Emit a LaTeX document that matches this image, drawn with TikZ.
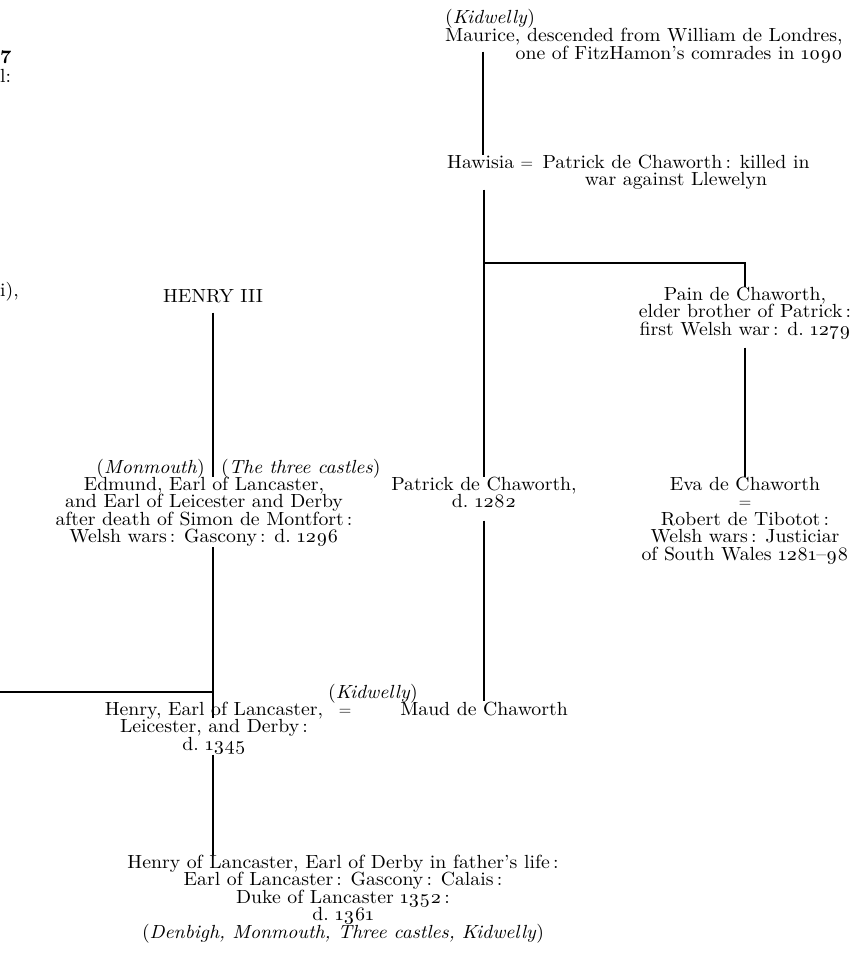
\documentclass[tikz,border=0pt]{standalone}
\usepackage{fontspec}
\setmainfont{lmroman10-regular.otf}[
  ItalicFont=lmroman10-italic.otf,
  BoldFont=lmroman10-bold.otf,
  FakeStretch=1.04,
  Numbers=OldStyle]
\setlength{\lineskiplimit}{-20pt}
\begin{document}
\begin{tikzpicture}[x=1pt, y=-1pt,
    every node/.style={inner sep=0pt, font=\fontsize{19}{17.5}\selectfont},
    entry/.style={align=center, anchor=north},
    tie/.style={line width=1.1pt}]
  \useasboundingbox (0,0) rectangle (859,954);
  % x of the descent lines
  \coordinate (xA) at (483,0);
  \coordinate (xH) at (484,0);
  \coordinate (xP) at (745,0);
  \coordinate (xE) at (213,0);
  % cut-off text of the left column
  \node (fragA) [anchor=base west] at (0,63) {\addfontfeature{Numbers=Lining}\textbf{7}};
  \node (fragB) [anchor=base west] at (0,82) {l:};
  \node (fragC) [anchor=base west] at (0,296) {i),};
  % Kidwelly line
  \node (kidA) [anchor=base west] at (445,23) {(\textit{Kidwelly})};
  \node (maurice) [align=right, anchor=north west] at (445,28.2)
    {Maurice, descended from William de Londres,\\one of FitzHamon's comrades in 1090};
  \node (hawisia) [anchor=base west] at (447,168) {Hawisia};
  \node (eqA) [anchor=base west] at ([xshift=6pt]hawisia.base east) {$=$};
  \node (patrickA) [anchor=base west] at ([xshift=9pt]eqA.base east) {Patrick de Chaworth\,: killed in};
  \node (llewelyn) [anchor=base] at ([yshift=-17.5pt]patrickA.base) {war against Llewelyn};
  \node (pain) [entry] at (745,286.8)
    {Pain de Chaworth,\\elder brother of Patrick\,:\\first Welsh war\,: d.~1279};
  \node (eva) [entry] at (745,476.8)
    {Eva de Chaworth\\$=$\\Robert de Tibotot\,:\\Welsh wars\,: Justiciar\\of South Wales 1281--98};
  \node (patrickB) [entry] at (484,476.8) {Patrick de Chaworth,\\d.~1282};
  % royal line
  \node (henryIII) [anchor=base] at (213,302) {HENRY III};
  \node (mon) [anchor=base east] at (205,473) {(\textit{Monmouth})};
  \node (three) [anchor=base west] at (221,473) {(\textit{The three castles})};
  \node (edmund) [entry] at (204,476.8)
    {Edmund, Earl of Lancaster,\\and Earl of Leicester and Derby\\after death of Simon de Montfort\,:\\Welsh wars\,: Gascony\,: d.~1296};
  \node (henry) [entry] at (214,701.8)
    {Henry, Earl of Lancaster,\\Leicester, and Derby\,:\\d.~1345};
  \node (eqB) [anchor=base] at (345,715) {$=$};
  \node (kidB) [anchor=base] at (373,698) {(\textit{Kidwelly})};
  \node (maud) [anchor=base] at (484,715) {Maud de Chaworth};
  \node (henryL) [entry] at (343,854.6)
    {Henry of Lancaster, Earl of Derby in father's life\,:\\Earl of Lancaster\,: Gascony\,: Calais\,:\\Duke of Lancaster 1352\,:\\d.~1361\\(\textit{Denbigh, Monmouth, Three castles, Kidwelly})};
  % descents
  \draw[tie, shorten <=-12pt] (maurice.south -| xA) -- (hawisia.north -| xA);
  \draw[tie] (llewelyn.south -| xH) -- (patrickB.north -| xH);
  \coordinate (fork) at (484,263);
  \draw[tie] (fork) -- (fork -| xP) -- (pain.north -| xP);
  \draw[tie, shorten <=8pt] (pain.south -| xP) -- (eva.north -| xP);
  \draw[tie, shorten <=10pt] (henryIII.south -| xE) -- (edmund.north -| xE);
  \draw[tie, shorten <=12pt] (patrickB.south -| xH) -- (maud.north -| xH);
  \draw[tie] (edmund.south -| xE) -- ([yshift=-16pt]henry.north -| xE);
  \coordinate (offL) at (0,692);
  \draw[tie] (offL) -- (offL -| xE);
  \draw[tie] (henry.south -| xE) -- (henryL.north -| xE);
\end{tikzpicture}
\end{document}
